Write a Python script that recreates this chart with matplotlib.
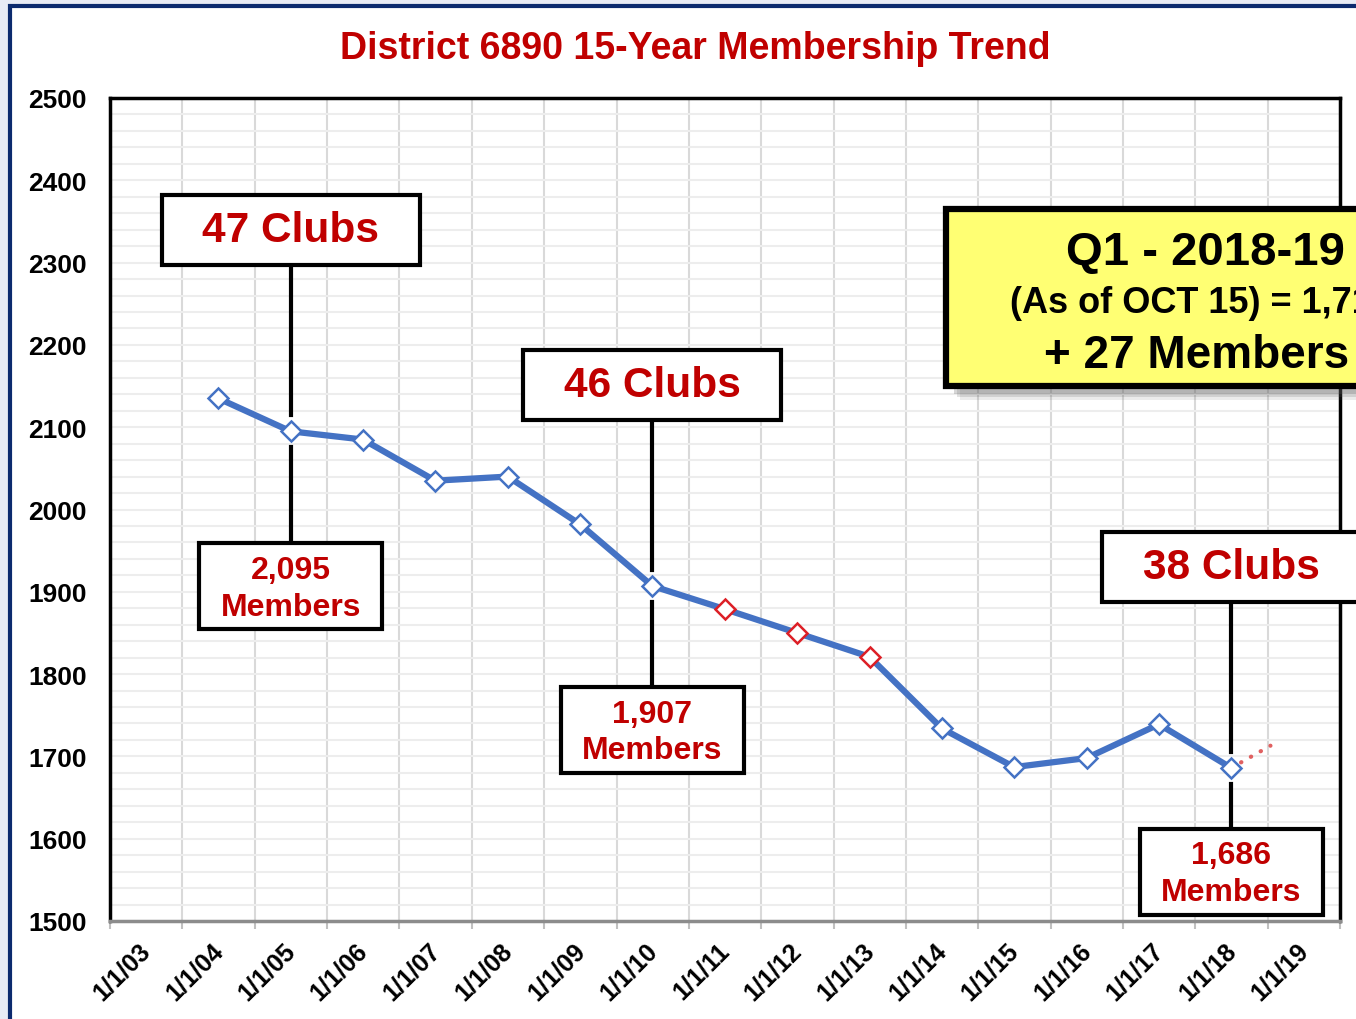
import matplotlib
matplotlib.use('Agg')
import matplotlib.pyplot as plt
import matplotlib.dates as mdates
from matplotlib.patches import Rectangle
from matplotlib.lines import Line2D
from matplotlib.transforms import ScaledTranslation, IdentityTransform
from matplotlib import font_manager
import pandas as pd

# membership on 1 July of each Rotary year
dates = ['2004-07-01', '2005-07-01', '2006-07-01', '2007-07-01', '2008-07-01',
         '2009-07-01', '2010-07-01', '2011-07-01', '2012-07-01', '2013-07-01',
         '2014-07-01', '2015-07-01', '2016-07-01', '2017-07-01', '2018-07-01']
members = [2135, 2095, 2085, 2035, 2040, 1982, 1907, 1879, 1850, 1821,
           1734, 1687, 1698, 1739, 1686]
red_marker_years = ['2011-07-01', '2012-07-01', '2013-07-01']

# Q1 2018-19 projection
ext_dates = ['2018-07-01', '2019-01-15']
ext_members = [1686, 1713]

tick_years = list(range(2003, 2021))
tick_labels = ['1/1/%02d' % (y % 100) for y in tick_years[:-1]] + ['']

callout_dates = ['2005-07-01', '2010-07-01', '2018-07-01']
callout_members = [2095, 1907, 1686]
club_labels = ['47 Clubs', '46 Clubs', '38 Clubs']
member_labels = ['2,095\nMembers', '1,907\nMembers', '1,686\nMembers']
member_box_drop = [155, 144, 104]   # px below the point

title = 'District 6890 15-Year Membership Trend'
q1_lines = ['Q1 - 2018-19', '(As of OCT 15) = 1,713', '+ 27 Members']

W, H = 1356, 1020
RED = '#c00000'
BLUE = '#4472c4'

names = {f.name for f in font_manager.fontManager.ttflist}
plt.rcParams['font.family'] = ['Liberation Sans', 'DejaVu Sans']
plt.rcParams['font.weight'] = 'bold'
narrow = 'Liberation Sans Narrow' if 'Liberation Sans Narrow' in names else 'Liberation Sans'

fig = plt.figure(figsize=(W / 100, H / 100), dpi=100, facecolor='#e8ebf5')

# outer slide frame
fig.patches.append(Rectangle((10, -60), 1500, H - 7 + 60, transform=IdentityTransform(),
                             fc='white', ec='#0c2a6e', lw=3, zorder=-1))

ax = fig.add_axes([110 / W, 1 - 922 / H, (1340 - 110) / W, (922 - 99) / H])

x = pd.to_datetime(dates)
ax.plot(pd.to_datetime(ext_dates), ext_members, color='#e06060', lw=3,
        linestyle=(0, (0.1, 2.6)), dash_capstyle='round', zorder=3)
ax.plot(x, members, color=BLUE, lw=4.5, zorder=4)
is_red = [d in red_marker_years for d in dates]
ax.plot(x[[not r for r in is_red]], [m for m, r in zip(members, is_red) if not r],
        ls='none', marker='D', ms=10, mfc='white', mec=BLUE, mew=1.8, zorder=5)
ax.plot(x[is_red], [m for m, r in zip(members, is_red) if r],
        ls='none', marker='D', ms=10, mfc='white', mec='#dd1f26', mew=1.8, zorder=5)

ax.set_xlim(pd.Timestamp('2003-01-01'), pd.Timestamp('2020-01-01'))
ax.set_ylim(1500, 2500)
ax.set_xticks(pd.to_datetime(['%d-01-01' % y for y in tick_years]))
ax.set_xticklabels(tick_labels, rotation=45, ha='center', va='top',
                   fontsize=18, family=narrow, fontweight='bold')
ax.set_yticks(range(1500, 2501, 100))
ax.set_yticks(range(1500, 2501, 20), minor=True)
ax.tick_params(axis='y', which='both', length=0, pad=16.5, labelsize=19)
ax.tick_params(axis='x', length=6, width=1.5, color='#c0c0c0', pad=6)
ax.grid(axis='x', color='#d9d9d9', lw=1.5)
ax.grid(axis='y', which='both', color='#ededed', lw=1.5)
ax.set_axisbelow(True)
for lab in ax.get_xticklabels():
    lab.set_transform(lab.get_transform() + ScaledTranslation(0.12, 0, fig.dpi_scale_trans))

for s in ['top', 'left', 'right']:
    ax.spines[s].set_linewidth(2.5)
    ax.spines[s].set_color('black')
ax.spines['bottom'].set_linewidth(2.5)
ax.spines['bottom'].set_color('#8c8c8c')

# callouts: boxes sized in pixels, anchored on the data points
for d, m, club, mem, drop in zip(callout_dates, callout_members, club_labels,
                                 member_labels, member_box_drop):
    t = fig.dpi_scale_trans + ScaledTranslation(mdates.date2num(pd.Timestamp(d)), m, ax.transData)
    up = 2.01
    down = -drop / 100
    ax.add_artist(Line2D([0, 0], [0.16, up], transform=t, color='black', lw=3,
                         zorder=6, clip_on=False))
    ax.add_artist(Line2D([0, 0], [-0.16, down], transform=t, color='black', lw=3,
                         zorder=6, clip_on=False))
    ax.add_artist(Rectangle((-1.29, up - 0.35), 2.58, 0.70, transform=t, fc='white',
                            ec='black', lw=3, zorder=7, clip_on=False))
    ax.add_artist(Rectangle((-0.915, down - 0.43), 1.83, 0.86, transform=t, fc='white',
                            ec='black', lw=3, zorder=7, clip_on=False))
    ax.text(0, up, club, transform=t, ha='center', va='center', fontsize=30.5,
            color=RED, zorder=8, clip_on=False)
    ax.text(0, down - 0.02, mem, transform=t, ha='center', va='center', fontsize=23,
            color=RED, linespacing=1.3, zorder=8, clip_on=False)

# title
fig.text(695 / W, 1 - 59 / H, title, ha='center', va='baseline', fontsize=27,
         color=RED, fontweight='bold')

# yellow Q1 box with shadow (the slide is cropped on the right, as in the original)
for off, a in [(14, 0.12), (11, 0.18), (8, 0.25)]:
    fig.patches.append(Rectangle((946 + off, H - 387 - off), 540, 177,
                                 transform=IdentityTransform(), fc='#606060',
                                 ec='none', alpha=a, zorder=9))
fig.patches.append(Rectangle((946, H - 387), 540, 177, transform=IdentityTransform(),
                             fc='#ffff73', ec='black', lw=4.5, zorder=10))
for (px, py), txt, fs in zip([(1066, 265), (1010, 313), (1044, 368)], q1_lines, [34, 26, 33]):
    fig.text(px / W, 1 - py / H, txt, ha='left', va='baseline', fontsize=fs,
             color='black', fontweight='bold', zorder=11)

fig.savefig('out.png', dpi=100)
